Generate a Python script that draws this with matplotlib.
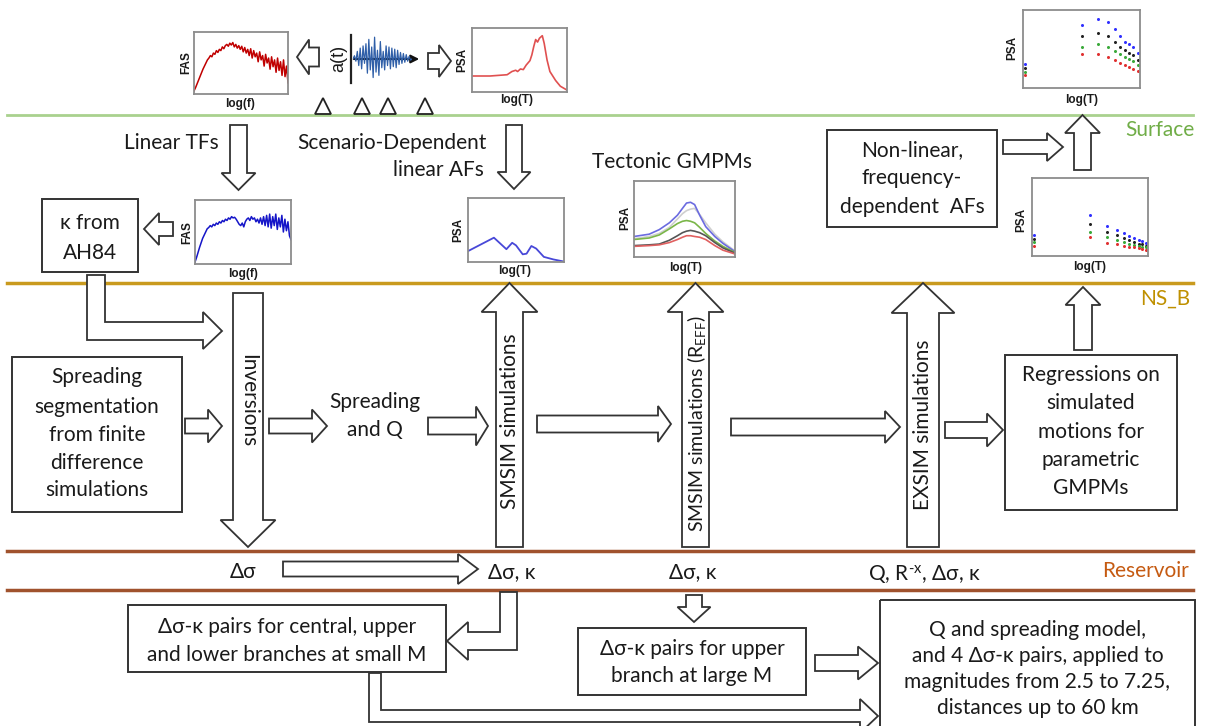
import matplotlib.pyplot as plt
from matplotlib.patches import Polygon, Rectangle, FancyArrow

W, H = 1205, 726

plt.rcParams['font.family'] = ['Lato', 'DejaVu Sans']
plt.rcParams['mathtext.fontset'] = 'custom'
plt.rcParams['mathtext.rm'] = 'Lato'
plt.rcParams['mathtext.it'] = 'Lato'

# ---- spectra and curves shown in the small panels (values scaled 0..1) ----
fas_surface = [0.05, 0.10, 0.16, 0.22, 0.28, 0.34, 0.40, 0.45, 0.50, 0.55, 0.58, 0.62,
               0.60, 0.66, 0.64, 0.70, 0.67, 0.72, 0.70, 0.76, 0.73, 0.78, 0.80, 0.77,
               0.82, 0.79, 0.83, 0.76, 0.80, 0.74, 0.78, 0.72, 0.77, 0.68, 0.75, 0.66,
               0.72, 0.62, 0.73, 0.58, 0.70, 0.60, 0.66, 0.52, 0.68, 0.55, 0.62, 0.45,
               0.64, 0.50, 0.58, 0.40, 0.60, 0.44, 0.55, 0.35, 0.58, 0.38, 0.52, 0.30,
               0.55, 0.28, 0.45, 0.18]
fas_nsb = [0.03, 0.10, 0.18, 0.26, 0.33, 0.40, 0.45, 0.50, 0.55, 0.57, 0.60, 0.58,
           0.62, 0.60, 0.64, 0.62, 0.66, 0.64, 0.68, 0.66, 0.70, 0.68, 0.72, 0.70,
           0.74, 0.72, 0.73, 0.70, 0.66, 0.62, 0.60, 0.64, 0.58, 0.66, 0.70, 0.72,
           0.68, 0.74, 0.70, 0.72, 0.66, 0.70, 0.64, 0.72, 0.62, 0.74, 0.60, 0.76,
           0.58, 0.78, 0.56, 0.74, 0.60, 0.78, 0.54, 0.72, 0.58, 0.76, 0.50, 0.70,
           0.52, 0.66, 0.44, 0.38]
accel = [0.0, 0.15, -0.1, 0.35, -0.3, 0.5, -0.45, 0.6, -0.2, 0.7, -0.65, 0.9, -0.5,
         0.55, -0.85, 1.0, -0.6, 0.4, -0.75, 0.8, -0.4, 0.35, -0.5, 0.6, -0.3, 0.55,
         -0.45, 0.5, -0.35, 0.45, -0.4, 0.4, -0.25, 0.3, -0.2, 0.25, -0.15, 0.2, -0.1,
         0.12, -0.05, 0.0]

psa_surf_T = [0.0, 0.19, 0.37, 0.42, 0.46, 0.48, 0.51, 0.54, 0.57, 0.61, 0.63, 0.65,
              0.67, 0.69, 0.71, 0.74, 0.76, 0.79, 0.82, 0.88, 0.93, 1.0]
psa_surf = [0.25, 0.25, 0.27, 0.32, 0.34, 0.32, 0.36, 0.35, 0.42, 0.49, 0.58, 0.71,
            0.82, 0.78, 0.84, 0.88, 0.76, 0.50, 0.32, 0.18, 0.09, 0.03]

af_T = [0.0, 0.27, 0.40, 0.46, 0.50, 0.57, 0.61, 0.66, 0.71, 0.79, 0.89, 0.99]
af_psa = [0.17, 0.38, 0.20, 0.30, 0.26, 0.12, 0.13, 0.25, 0.21, 0.08, 0.04, 0.01]

gmpm_T = [0.0, 0.15, 0.25, 0.35, 0.43, 0.48, 0.52, 0.56, 0.60, 0.65, 0.71, 0.80, 0.88, 1.0]
gmpm_blue = [0.27, 0.30, 0.36, 0.45, 0.55, 0.64, 0.71, 0.72, 0.69, 0.55, 0.40, 0.27, 0.18, 0.07]
gmpm_grey = [0.24, 0.27, 0.31, 0.39, 0.50, 0.57, 0.61, 0.63, 0.64, 0.56, 0.45, 0.30, 0.20, 0.08]
gmpm_green = [0.23, 0.25, 0.29, 0.37, 0.44, 0.47, 0.48, 0.47, 0.45, 0.39, 0.31, 0.21, 0.14, 0.06]
gmpm_black = [0.15, 0.16, 0.17, 0.22, 0.28, 0.32, 0.34, 0.35, 0.34, 0.32, 0.28, 0.19, 0.12, 0.05]
gmpm_red = [0.14, 0.15, 0.16, 0.19, 0.23, 0.26, 0.28, 0.28, 0.27, 0.26, 0.23, 0.15, 0.09, 0.04]

# regression scatter: surface (top) and NS_B (bottom)
reg_T = [0.02, 0.50, 0.64, 0.73, 0.79, 0.83, 0.87, 0.91, 0.94, 0.98]
surf_blue = [0.31, 0.81, 0.89, 0.85, 0.76, 0.67, 0.59, 0.56, 0.52, 0.45]
surf_black = [0.26, 0.67, 0.71, 0.67, 0.59, 0.53, 0.49, 0.45, 0.42, 0.36]
surf_green = [0.21, 0.53, 0.56, 0.52, 0.47, 0.43, 0.40, 0.37, 0.34, 0.29]
surf_red = [0.17, 0.43, 0.44, 0.40, 0.36, 0.32, 0.29, 0.27, 0.25, 0.22]
reg_T_nsb = [0.02, 0.50, 0.65, 0.73, 0.79, 0.84, 0.88, 0.92, 0.95, 0.98]
nsb_blue = [0.27, 0.53, 0.38, 0.33, 0.29, 0.26, 0.23, 0.21, 0.19, 0.17]
nsb_black = [0.22, 0.41, 0.31, 0.27, 0.23, 0.21, 0.18, 0.16, 0.15, 0.13]
nsb_green = [0.18, 0.31, 0.25, 0.21, 0.18, 0.16, 0.14, 0.13, 0.12, 0.11]
nsb_red = [0.13, 0.24, 0.17, 0.15, 0.13, 0.12, 0.11, 0.10, 0.09, 0.08]

station_x = [323, 362, 388, 425]

F = 15
INK = '#1a1a1a'
EDGE = '#333333'

fig = plt.figure(figsize=(W / 100, H / 100), dpi=100)
ax = fig.add_axes([0, 0, 1, 1])
ax.set_xlim(0, W)
ax.set_ylim(H, 0)
ax.axis('off')


def txt(x, y, s, size=F, **kw):
    kw.setdefault('color', INK)
    ax.text(x, y, s, fontsize=size, ha='center', va='center', zorder=6, **kw)


def box(x0, y0, x1, y1, lines, ys):
    ax.add_patch(Rectangle((x0, y0), x1 - x0, y1 - y0, fill=False, ec=EDGE, lw=1.4, zorder=3))
    for s, y in zip(lines, ys):
        txt((x0 + x1) / 2, y, s)


def arrow(x0, y0, x1, y1, shaft, head, hlen):
    ax.add_patch(FancyArrow(x0, y0, x1 - x0, y1 - y0, width=shaft, head_width=head,
                            head_length=hlen, length_includes_head=True,
                            fc='white', ec=EDGE, lw=1.3, zorder=4))


def panel(x0, y0, x1, y1, ylab, ylab_xy, xlab, xlab_xy):
    a = fig.add_axes([x0 / W, 1 - y1 / H, (x1 - x0) / W, (y1 - y0) / H])
    a.set_xticks([])
    a.set_yticks([])
    for sp in a.spines.values():
        sp.set_color('#8c8c8c')
        sp.set_linewidth(1.3)
    a.set_ylim(0, 1)
    lab = dict(fontsize=8.5, fontweight='bold', family='Liberation Sans', color=INK,
               ha='center', va='center')
    ax.text(ylab_xy[0], ylab_xy[1], ylab, rotation=90, **lab)
    ax.text(xlab_xy[0], xlab_xy[1], xlab, **lab)
    return a


# ---- layer boundaries ----
ax.plot([7, 1193], [115, 115], color='#a9d18e', lw=2, zorder=1)
ax.plot([7, 1193], [283, 283], color='#c99a1e', lw=2.5, zorder=1)
ax.plot([7, 1193], [551, 551], color='#a0522d', lw=2.5, zorder=1)
ax.plot([7, 1193], [590, 590], color='#a0522d', lw=2.5, zorder=1)
txt(1160, 130, 'Surface', color='#70ad47')
txt(1165, 299, 'NS_B', color='#bf9000')
txt(1145, 571, 'Reservoir', color='#c55a11')

# ---- surface record: FAS <- a(t) -> PSA ----
p = panel(194, 32, 288, 94, 'FAS', (186, 63), 'log(f)', (240, 104))
p.plot(fas_surface, color='#c00000', lw=1.1)
p.set_xlim(0, len(fas_surface) - 1)

arrow(319, 57, 297, 57, 19, 35, 12)

ax.text(339, 58, 'a(t)', rotation=90, ha='center', va='center', fontsize=13,
        family='Liberation Sans', color=INK)
sig = fig.add_axes([353 / W, 1 - 83 / H, (412 - 353) / W, (83 - 35) / H])
sig.plot(accel, color='#2f5fa8', lw=0.9)
sig.set_xlim(0, len(accel) - 1)
sig.set_ylim(-1.1, 1.1)
sig.axis('off')
ax.plot([351, 351], [35, 83], color='#222222', lw=1.6, zorder=5)
ax.annotate('', xy=(422, 59), xytext=(351, 59),
            arrowprops=dict(arrowstyle='-|>', color='#111111', lw=1.5, mutation_scale=12),
            zorder=5)

arrow(428, 61, 451, 61, 16, 32, 12)

p = panel(472, 28, 567, 92, 'PSA', (462, 60), 'log(T)', (517, 100))
p.plot(psa_surf_T, psa_surf, color='#e05050', lw=1.2)
p.set_xlim(0, 1)

ax.plot(station_x, [106] * len(station_x), ls='none', marker='^', ms=11,
        mfc='white', mec='#222222', mew=1.3, zorder=5)

# ---- surface <-> NS_B transfer ----
txt(171, 143, 'Linear TFs')
arrow(238.5, 125, 238.5, 190, 17, 34, 17)
txt(392, 143, 'Scenario-Dependent')
txt(438, 170, 'linear AFs')
arrow(514, 125, 514, 189, 16, 33, 17)

box(42, 199, 138, 272, ['κ from', 'AH84'], [223, 253])
arrow(173, 229, 144, 229, 14, 32, 15)

p = panel(195, 200, 291, 264, 'FAS', (187, 233), 'log(f)', (243, 274))
p.plot(fas_nsb, color='#1515c8', lw=1.1)
p.set_xlim(0, len(fas_nsb) - 1)

p = panel(468, 198, 564, 262, 'PSA', (458, 230), 'log(T)', (515, 271))
p.plot(af_T, af_psa, color='#4848d8', lw=1.3)
p.set_xlim(0, 1)

txt(672, 162, 'Tectonic GMPMs')
p = panel(634, 181, 735, 257, 'PSA', (625, 218), 'log(T)', (686, 268))
for vals, c in [(gmpm_grey, '#cfcfcf'), (gmpm_blue, '#6b6be0'), (gmpm_green, '#7ab648'),
                (gmpm_black, '#555555'), (gmpm_red, '#e06060')]:
    p.plot(gmpm_T, vals, color=c, lw=1.2)
p.set_xlim(0, 1)

box(827, 130, 997, 227, ['Non-linear,', 'frequency-', 'dependent  AFs'], [150, 178, 207])
arrow(1003, 147, 1063, 147, 14, 28, 16)
arrow(1082.5, 170, 1082.5, 115, 17, 35, 18)

p = panel(1023, 10, 1140, 88, 'PSA', (1012, 48), 'log(T)', (1082, 100))
for vals, c in [(surf_blue, '#3030ff'), (surf_black, '#222222'), (surf_green, '#3aaa3a'),
                (surf_red, '#e03030')]:
    p.plot(reg_T, vals, ls='none', marker='o', ms=2.2, mew=0, color=c)
p.set_xlim(0, 1)

p = panel(1032, 178, 1148, 256, 'PSA', (1021, 220), 'log(T)', (1090, 267))
for vals, c in [(nsb_blue, '#3030ff'), (nsb_black, '#222222'), (nsb_green, '#3aaa3a'),
                (nsb_red, '#e03030')]:
    p.plot(reg_T_nsb, vals, ls='none', marker='o', ms=2.2, mew=0, color=c)
p.set_xlim(0, 1)

# ---- NS_B to reservoir: inversions and simulations ----
ax.add_patch(Polygon([(87, 275), (87, 340), (203, 340), (203, 349), (222, 331), (203, 312),
                      (203, 322), (105, 322), (105, 275)], closed=True,
                     fc='white', ec=EDGE, lw=1.3, zorder=4))

box(12, 357, 182, 512, ['Spreading', 'segmentation', 'from finite', 'difference', 'simulations'],
    [377, 407, 435, 463, 490])
arrow(185, 426, 222, 426, 15, 33, 14)

arrow(248, 293, 248, 547, 30, 55, 27)
txt(248, 401, 'Inversions', rotation=270)

arrow(269, 426, 327, 426, 15, 33, 15)
txt(375, 402, 'Spreading')
txt(375, 430, 'and Q')
arrow(428, 426, 488, 426, 17, 39, 12)

arrow(509.5, 547, 509.5, 283, 27, 56, 29)
txt(510, 421, 'SMSIM simulations', rotation=90)

arrow(537, 424, 671, 424, 17, 36, 13)

arrow(695.5, 547, 695.5, 283, 27, 56, 29)
txt(696, 424, 'SMSIM simulations (R$_{\\mathrm{EFF}}$)', size=14, rotation=90)

arrow(731, 427, 900, 427, 17, 32, 15)

arrow(923, 547, 923, 283, 32, 63, 30)
txt(923, 425, 'EXSIM simulations', rotation=90)

arrow(945, 430, 1003, 430, 16, 33, 16)
box(1005, 355, 1177, 510, ['Regressions on', 'simulated', 'motions for', 'parametric', 'GMPMs'],
    [375, 403, 432, 460, 488])
arrow(1083, 350, 1083, 287, 18, 35, 18)

# ---- reservoir parameters ----
txt(243, 572, 'Δσ')
arrow(283, 569, 478, 569, 15, 30, 20)
txt(512, 572, 'Δσ, κ')
txt(693, 572, 'Δσ, κ')
txt(924, 574, 'Q, R$^{\\mathrm{\u2010x}}$, Δσ, κ')

# ---- branch models ----
ax.add_patch(Polygon([(500, 592), (517, 592), (517, 650), (468, 650), (468, 660), (447, 641),
                      (468, 622), (468, 632), (500, 632)], closed=True,
                     fc='white', ec=EDGE, lw=1.3, zorder=4))
box(128, 605, 446, 672, ['Δσ-κ pairs for central, upper', 'and lower branches at small M'],
    [627, 655])
ax.add_patch(Polygon([(369, 673), (381, 673), (381, 710), (860, 710), (860, 699), (878, 716),
                      (860, 733), (860, 722), (369, 722)], closed=True,
                     fc='white', ec=EDGE, lw=1.3, zorder=4))

arrow(694, 595, 694, 622, 16, 33, 15)
box(578, 628, 806, 695, ['Δσ-κ pairs for upper', 'branch at large M'], [649, 676])
arrow(815, 663, 878, 663, 16, 33, 20)

box(880, 600, 1195, 740, ['Q and spreading model,', 'and 4 Δσ-κ pairs, applied to',
                          'magnitudes from 2.5 to 7.25,', 'distances up to 60 km'],
    [630, 656, 682, 708])

fig.savefig('out.png', dpi=100)
